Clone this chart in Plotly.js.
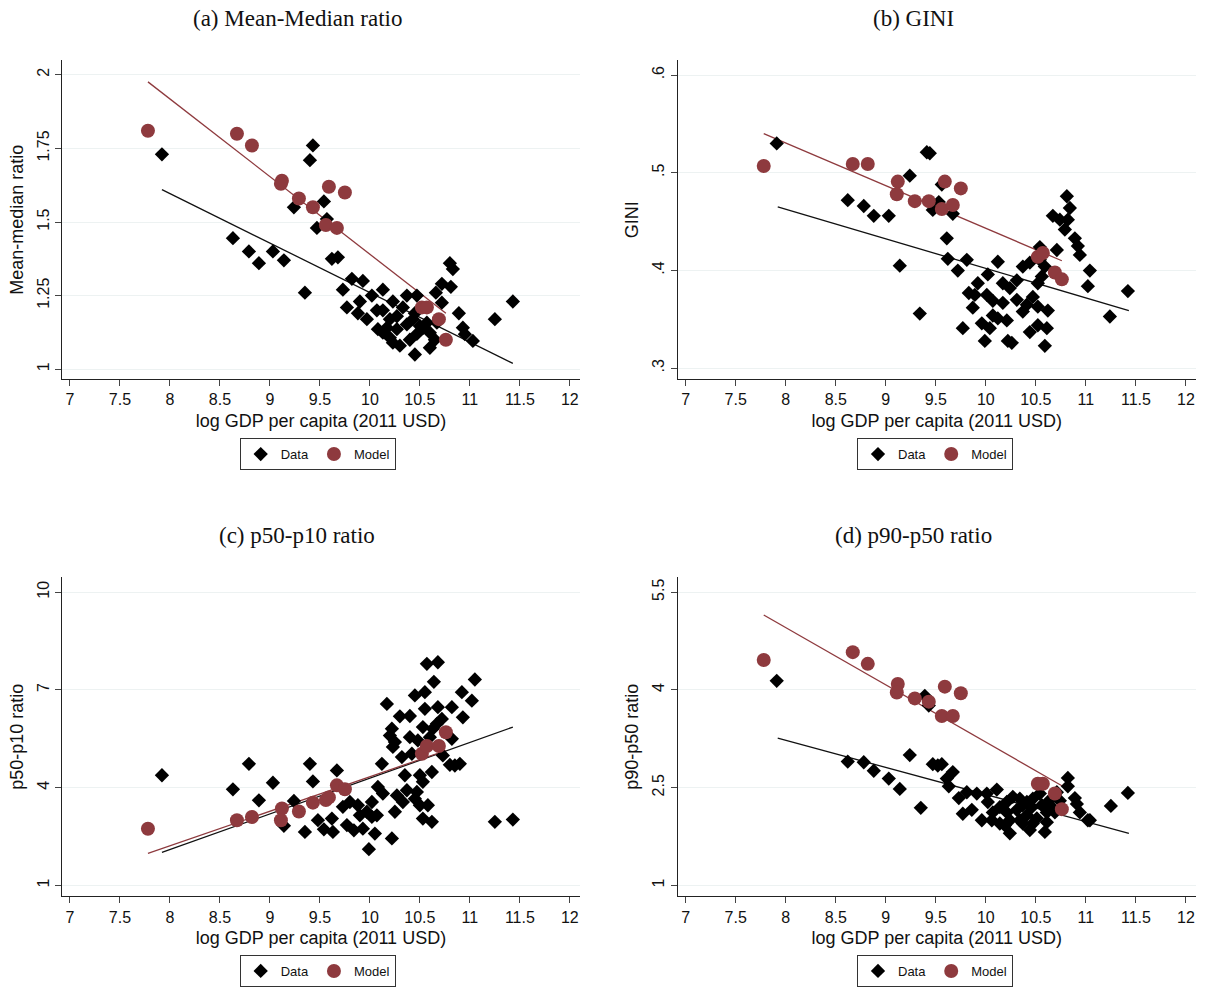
<!DOCTYPE html>
<html>
<head>
<meta charset="utf-8">
<script src="https://cdn.plot.ly/plotly-3.0.1.min.js"></script>
<style>body{margin:0;background:#fff}#chart{width:1208px;height:987px}</style>
</head>
<body>
<div id="chart"></div>
<script>
// model points share the same x (log GDP) in every panel
var modelX = [7.78, 8.67, 8.82, 9.12, 9.11, 9.29, 9.43, 9.56, 9.59, 9.67, 9.75, 10.52, 10.57, 10.69, 10.76];
var modelA = [1.81, 1.80, 1.76, 1.64, 1.63, 1.58, 1.55, 1.49, 1.62, 1.48, 1.60, 1.21, 1.21, 1.17, 1.10];
var modelB = [0.507, 0.509, 0.509, 0.491, 0.478, 0.471, 0.471, 0.463, 0.491, 0.467, 0.484, 0.414, 0.418, 0.398, 0.391];
var modelC = [2.74, 3.0, 3.10, 3.36, 3.0, 3.27, 3.54, 3.62, 3.70, 4.07, 3.95, 5.04, 5.28, 5.28, 5.70];
var modelD = [4.46, 4.58, 4.40, 4.09, 3.96, 3.87, 3.82, 3.60, 4.05, 3.60, 3.95, 2.56, 2.56, 2.41, 2.17];

// data points per panel
var dataAx = [7.92,9.43,9.40,9.54,9.24,9.57,9.47,8.63,8.79,8.89,9.03,9.14,9.62,9.68,9.35,10.8,10.83,9.82,9.93,9.73,10.13,10.72,10.81,10.66,9.77,9.9,10.02,10.23,10.37,10.47,10.72,10.89,11.43,11.25,9.88,9.97,10.07,10.13,10.2,10.27,10.33,10.08,10.17,10.27,10.37,10.43,10.5,10.57,10.6,10.67,10.45,10.53,10.47,10.93,11.03,10.95,10.23,10.3,10.4,10.45,10.6,10.65,10.13,10.2];
var dataAy = [1.73,1.76,1.71,1.57,1.55,1.51,1.48,1.445,1.40,1.36,1.40,1.37,1.375,1.38,1.26,1.36,1.34,1.307,1.30,1.27,1.27,1.29,1.28,1.26,1.21,1.23,1.25,1.23,1.25,1.25,1.226,1.19,1.23,1.17,1.19,1.17,1.20,1.20,1.17,1.18,1.21,1.136,1.141,1.136,1.152,1.17,1.147,1.158,1.124,1.158,1.19,1.14,1.12,1.141,1.096,1.119,1.09,1.08,1.10,1.05,1.073,1.10,1.124,1.107];

var dataBx = [7.91,9.41,9.44,9.24,9.56,8.62,8.78,8.88,9.03,9.53,9.47,9.67,9.61,9.14,9.62,9.81,9.72,9.34,10.12,10.02,9.92,9.83,9.89,10.01,10.07,10.17,10.24,10.31,10.37,10.44,10.54,10.59,10.54,10.71,10.52,10.56,10.81,10.84,10.67,10.74,10.82,10.79,10.89,10.92,10.94,11.04,11.02,11.42,11.24,9.87,10.07,10.21,10.31,10.41,10.17,10.37,9.77,9.96,10.04,10.12,9.99,10.22,10.26,10.44,10.52,10.61,10.62,10.59,10.47,10.52];
var dataBy = [0.530,0.521,0.520,0.497,0.488,0.472,0.466,0.456,0.456,0.470,0.462,0.458,0.433,0.405,0.412,0.411,0.400,0.356,0.409,0.396,0.387,0.377,0.375,0.375,0.369,0.387,0.382,0.390,0.404,0.408,0.411,0.404,0.424,0.421,0.387,0.394,0.476,0.464,0.456,0.452,0.452,0.442,0.433,0.425,0.416,0.400,0.384,0.379,0.353,0.362,0.354,0.349,0.370,0.365,0.367,0.358,0.341,0.346,0.341,0.351,0.328,0.328,0.326,0.337,0.344,0.341,0.359,0.323,0.373,0.363];

var dataCx = [7.92,8.63,8.79,8.89,9.03,9.14,9.24,9.35,9.40,9.43,9.48,9.54,9.62,9.63,9.67,9.73,9.8,9.88,9.9,9.77,9.84,9.93,9.97,10.02,10.07,10.05,9.99,10.22,10.02,10.13,10.08,10.12,10.17,10.22,10.2,10.25,10.23,10.3,10.4,10.32,10.35,10.27,10.33,10.25,10.4,10.42,10.45,10.55,10.57,10.68,10.64,10.55,10.68,10.82,10.53,10.63,10.72,10.67,10.48,10.6,10.82,10.5,10.53,10.62,10.73,10.8,10.85,10.9,10.93,10.92,11.02,11.05,10.37,10.47,10.45,10.5,10.58,10.53,10.62,11.25,11.43];
var dataCy = [4.38,3.95,4.73,3.61,4.15,2.83,3.59,2.64,4.73,4.19,3.0,2.72,3.05,2.64,4.53,3.41,3.56,3.46,3.15,2.85,2.69,2.74,3.26,3.10,3.15,2.59,2.11,2.44,3.56,3.82,4.02,4.73,6.57,5.81,5.6,5.4,5.25,6.19,6.2,4.94,4.38,3.76,3.56,3.26,5.55,5.04,6.83,6.93,7.8,7.85,7.25,6.42,6.47,6.47,5.86,5.81,6.11,5.96,5.45,5.55,5.5,4.38,4.18,4.48,4.99,4.7,4.68,4.73,6.16,6.93,6.67,7.32,3.92,3.87,3.66,3.46,3.46,3.05,2.95,2.95,3.02];

var dataDx = [7.91,8.62,8.78,8.88,9.03,9.14,9.24,9.35,9.39,9.43,9.47,9.56,9.52,9.67,9.61,9.63,9.73,9.81,9.77,9.86,9.96,9.91,10.01,10.02,10.11,10.06,10.14,10.07,10.14,10.21,10.27,10.34,10.41,10.47,10.54,10.21,10.31,10.37,10.46,10.56,10.62,10.24,10.34,10.41,10.51,10.61,10.66,10.24,10.44,10.59,10.19,10.37,10.47,10.61,10.82,10.82,10.89,10.91,10.94,11.02,11.04,11.25,11.42,10.71,10.74,10.69];
var dataDy = [4.14,2.90,2.89,2.76,2.64,2.48,3.0,2.19,3.91,3.76,2.86,2.86,2.84,2.74,2.64,2.52,2.34,2.43,2.10,2.16,2.0,2.41,2.41,2.28,2.47,2.0,1.95,2.12,2.20,2.28,2.36,2.33,2.28,2.33,2.41,2.12,2.16,2.23,2.20,2.23,2.28,2.0,2.0,2.08,2.03,2.12,2.20,1.80,1.85,1.82,1.92,1.95,1.95,1.97,2.65,2.52,2.34,2.25,2.12,2.0,2.0,2.22,2.42,2.43,2.30,2.12];

// fitted lines (endpoints)
var fitDataX = [7.92, 11.43];
var fitModelX = [7.78, 10.76];
var fitDataA = [1.61, 1.02], fitModelA = [1.976, 1.19];
var fitDataB = [0.465, 0.359], fitModelB = [0.540, 0.410];
var fitDataC = [2.01, 5.86], fitModelC = [1.98, 5.14];
var fitDataD = [3.26, 1.80], fitModelD = [5.15, 2.53];

var red = '#8e3a3e';
var xTicks = [7, 7.5, 8, 8.5, 9, 9.5, 10, 10.5, 11, 11.5, 12];

var panels = [
  {n: '', dx: dataAx, dy: dataAy, my: modelA, fd: fitDataA, fm: fitModelA, leg: 'legend'},
  {n: '2', dx: dataBx, dy: dataBy, my: modelB, fd: fitDataB, fm: fitModelB, leg: 'legend2'},
  {n: '3', dx: dataCx, dy: dataCy, my: modelC, fd: fitDataC, fm: fitModelC, leg: 'legend3'},
  {n: '4', dx: dataDx, dy: dataDy, my: modelD, fd: fitDataD, fm: fitModelD, leg: 'legend4'}
];

var traces = [];
panels.forEach(function (p) {
  var xa = 'x' + p.n, ya = 'y' + p.n;
  traces.push({x: fitDataX, y: p.fd, xaxis: xa, yaxis: ya, mode: 'lines', line: {color: '#111', width: 1.3}, showlegend: false, hoverinfo: 'skip'});
  traces.push({x: fitModelX, y: p.fm, xaxis: xa, yaxis: ya, mode: 'lines', line: {color: red, width: 1.3}, showlegend: false, hoverinfo: 'skip'});
  traces.push({x: p.dx, y: p.dy, xaxis: xa, yaxis: ya, mode: 'markers', name: 'Data', legend: p.leg,
    marker: {symbol: 'diamond', color: '#000', size: 11}});
  traces.push({x: modelX, y: p.my, xaxis: xa, yaxis: ya, mode: 'markers', name: 'Model', legend: p.leg,
    marker: {symbol: 'circle', color: red, size: 14}});
});

var tickFont = {family: 'Liberation Sans, Arial', size: 16, color: '#111'};
function xaxis(dom, anchor) {
  return {domain: dom, anchor: anchor, range: [6.92, 12.1], tickvals: xTicks, ticks: 'outside', ticklen: 6,
    showline: true, linecolor: '#222', showgrid: false, zeroline: false, tickfont: tickFont,
    title: {text: 'log GDP per capita (2011 USD)', font: {family: 'Liberation Sans, Arial', size: 18, color: '#111'}, standoff: 6}};
}
function yaxis(dom, anchor, range, vals, txt, title) {
  return {domain: dom, anchor: anchor, range: range, tickvals: vals, ticktext: txt, tickangle: -90, ticks: 'outside', ticklen: 6,
    showline: true, linecolor: '#222', showgrid: true, gridcolor: '#edf2f2', zeroline: false, tickfont: tickFont,
    title: {text: title, font: {family: 'Liberation Sans, Arial', size: 18, color: '#111'}, standoff: 6}};
}
function legend(x, y) {
  return {x: x, y: y, xanchor: 'center', yanchor: 'middle', orientation: 'h', bordercolor: '#333', borderwidth: 1,
    font: {family: 'Liberation Sans, Arial', size: 13, color: '#111'}, itemwidth: 30, tracegroupgap: 0};
}

var L = 0.0513, R1 = 0.480, L2 = 0.561, R2 = 0.990;
var T = [0.615, 0.939], B = [0.090, 0.414];
var titleFont = {family: 'Liberation Serif, DejaVu Serif, serif', size: 23, color: '#111'};
function title(text, x, y) {
  return {text: text, x: x, y: y, xref: 'paper', yref: 'paper', xanchor: 'center', yanchor: 'middle', showarrow: false, font: titleFont};
}

var layout = {
  width: 1208, height: 987, margin: {l: 0, r: 0, t: 0, b: 0},
  paper_bgcolor: '#fff', plot_bgcolor: '#fff', showlegend: true,
  xaxis: xaxis([L, R1], 'y'),
  yaxis: yaxis(T, 'x', [0.966, 2.05], [1, 1.25, 1.5, 1.75, 2], ['1', '1.25', '1.5', '1.75', '2'], 'Mean-median ratio'),
  xaxis2: xaxis([L2, R2], 'y2'),
  yaxis2: yaxis(T, 'x2', [0.2888, 0.6153], [0.3, 0.4, 0.5, 0.6], ['.3', '.4', '.5', '.6'], 'GINI'),
  xaxis3: xaxis([L, R1], 'y3'),
  yaxis3: yaxis(B, 'x3', [0.663, 10.46], [1, 4, 7, 10], ['1', '4', '7', '10'], 'p50-p10 ratio'),
  xaxis4: xaxis([L2, R2], 'y4'),
  yaxis4: yaxis(B, 'x4', [0.832, 5.73], [1, 2.5, 4, 5.5], ['1', '2.5', '4', '5.5'], 'p90-p50 ratio'),
  legend: legend(0.263, 0.539),
  legend2: legend(0.774, 0.539),
  legend3: legend(0.263, 0.014),
  legend4: legend(0.774, 0.014),
  annotations: [
    title('(a) Mean-Median ratio', 0.246, 0.981),
    title('(b) GINI', 0.756, 0.981),
    title('(c) p50-p10 ratio', 0.246, 0.456),
    title('(d) p90-p50 ratio', 0.756, 0.456)
  ]
};

Plotly.newPlot('chart', traces, layout, {displayModeBar: false});
</script>
</body>
</html>
